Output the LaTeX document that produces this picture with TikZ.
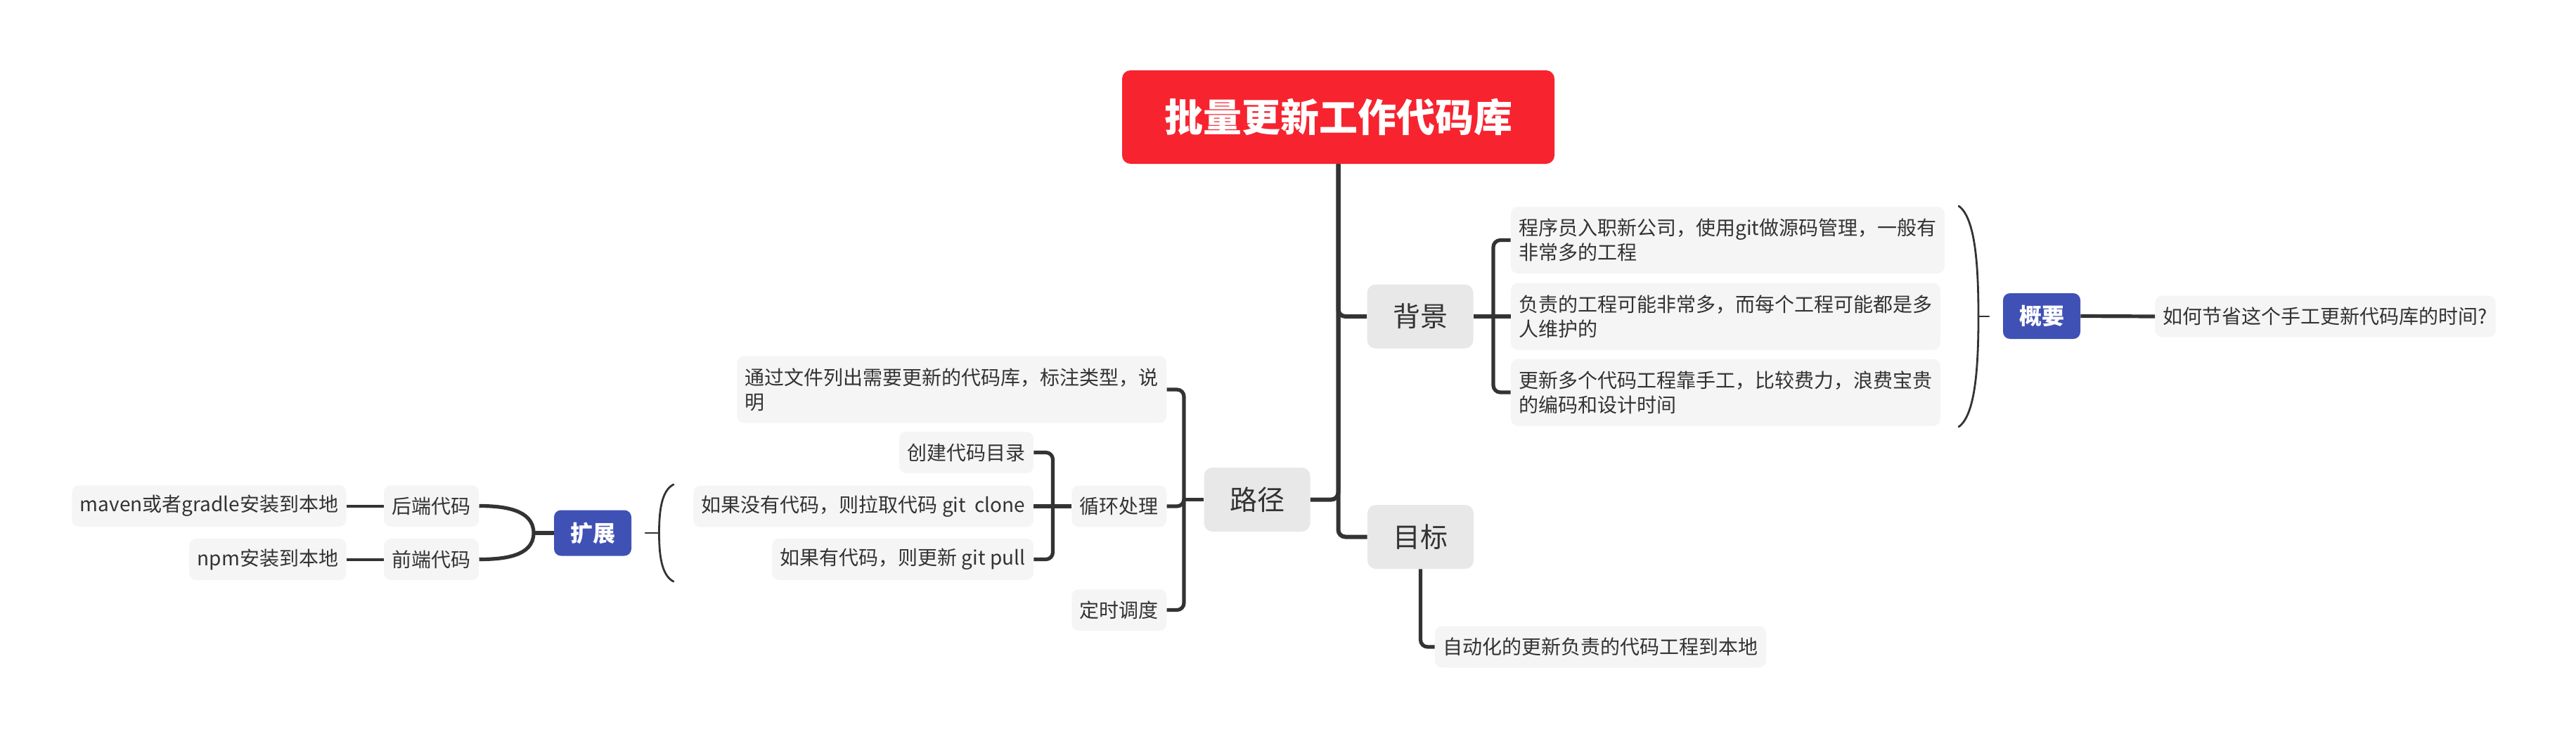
\documentclass[tikz,border=0pt]{standalone}
\usepackage{fontspec}
\setmainfont{Noto Sans CJK SC}
\usetikzlibrary{calc,positioning}
\definecolor{rootred}{HTML}{F7232F}
\definecolor{sumblue}{HTML}{4051B5}
\definecolor{topicgray}{HTML}{E8E8E8}
\definecolor{leafgray}{HTML}{F5F5F5}
\definecolor{ink}{HTML}{333333}

\begin{document}
\begin{tikzpicture}[x=50pt,y=-50pt,
	rootbox/.style={fill=rootred,text=white,rounded corners=6pt,minimum width=307.5pt,minimum height=66.5pt,font=\fontsize{27.5pt}{30pt}\selectfont\bfseries},
	topic/.style={fill=topicgray,text=ink,rounded corners=6pt,minimum width=75.5pt,minimum height=45.5pt,font=\fontsize{19.5pt}{22pt}\selectfont},
	leaf/.style={fill=leafgray,text=ink,rounded corners=5pt,inner xsep=5.75pt,minimum height=29.5pt,align=left,font=\fontsize{14pt}{17.5pt}\selectfont},
	twoline/.style={minimum height=47.5pt},
	summary/.style={fill=sumblue,text=white,rounded corners=5pt,minimum width=55pt,minimum height=32.5pt,font=\fontsize{16pt}{18pt}\selectfont\bfseries},
	trunk/.style={draw=ink,line width=3pt,rounded corners=5pt},
	twig/.style={draw=ink,line width=2.6pt,rounded corners=5pt},
	thin twig/.style={draw=ink,line width=2pt},
	brace line/.style={draw=ink,line width=1.4pt,line cap=round}]

	\useasboundingbox (0,0) rectangle (36.64,10.50);

	\node[rootbox] (root) at (19.035,1.665) {批量更新工作代码库};
	\node[topic] (bg) at (20.20,4.50) {背景};
	\node[topic] (route) at (17.88,7.105) {路径};
	\node[topic] (goal) at (20.205,7.635) {目标};

	\node[leaf,twoline,anchor=west] (bgA) at (21.485,3.415) {程序员入职新公司，使用git做源码管理，一般有\\非常多的工程};
	\node[leaf,twoline,anchor=west] (bgB) at (21.485,4.50) {负责的工程可能非常多，而每个工程可能都是多\\人维护的};
	\node[leaf,twoline,anchor=west] (bgC) at (21.485,5.58) {更新多个代码工程靠手工，比较费力，浪费宝贵\\的编码和设计时间};
	\node[summary] (summ) at (29.04,4.495) {概要};
	\node[leaf,anchor=west] (summtxt) at (30.65,4.50) {如何节省这个手工更新代码库的时间?};

	\node[leaf,anchor=west] (auto) at (20.406,9.20) {自动化的更新负责的代码工程到本地};

	\node[leaf,twoline,anchor=east] (list) at (16.597,5.54) {通过文件列出需要更新的代码库，标注类型，说\\明};
	\node[leaf,anchor=east] (loop) at (16.597,7.20) {循环处理};
	\node[leaf,anchor=east] (timer) at (16.597,8.675) {定时调度};
	\node[leaf,anchor=east] (mkdir) at (14.704,6.435) {创建代码目录};
	\node[leaf,anchor=east] (clone) at (14.704,7.20) {如果没有代码，则拉取代码 git~~clone};
	\node[leaf,anchor=east] (pull) at (14.704,7.955) {如果有代码，则更新 git pull};

	\node[summary] (ext) at (8.43,7.58) {扩展};
	\node[leaf,anchor=east] (backend) at (6.815,7.195) {后端代码};
	\node[leaf,anchor=east] (frontend) at (6.815,7.955) {前端代码};
	\node[leaf,anchor=east] (maven) at (4.93,7.195) {maven或者gradle安装到本地};
	\node[leaf,anchor=east] (npm) at (4.93,7.955) {npm安装到本地};

	\draw[trunk] (root.south) |- (bg.west);
	\draw[trunk] (root.south) |- (route.east);
	\draw[trunk] (root.south) |- (goal.west);

	\coordinate (bgj) at (21.24,4.50);
	\draw[twig] (bg.east) -- (bgj);
	\draw[twig] (bgj) |- (bgA.west);
	\draw[twig] (bgj) -- (bgB.west);
	\draw[twig] (bgj) |- (bgC.west);

	\draw[brace line] (27.86,2.93) .. controls (28.10,3.10) and (28.14,3.80) .. (28.14,4.50) .. controls (28.14,5.20) and (28.10,5.90) .. (27.86,6.07);
	\draw[brace line] (28.14,4.50) -- (28.29,4.50);
	\draw[twig] (summ.east) -- (summtxt.west);

	\draw[twig] (goal.south) |- (auto.west);

	\coordinate (rtj) at (16.84,7.105);
	\draw[twig] (route.west) -- (rtj);
	\draw[twig] (rtj) |- (list.east);
	\draw[twig] (rtj) |- (loop.east);
	\draw[twig] (rtj) |- (timer.east);

	\coordinate (lpj) at (14.975,7.20);
	\draw[twig] (loop.west) -- (lpj);
	\draw[twig] (lpj) |- (mkdir.east);
	\draw[twig] (lpj) -- (clone.east);
	\draw[twig] (lpj) |- (pull.east);

	\draw[brace line] (9.58,6.89) .. controls (9.40,6.98) and (9.375,7.30) .. (9.375,7.58) .. controls (9.375,7.86) and (9.40,8.18) .. (9.58,8.27);
	\draw[brace line] (9.375,7.58) -- (9.18,7.58);

	\coordinate (exj) at (7.59,7.58);
	\draw[twig] (ext.west) -- (exj);
	\draw[twig] (exj) to[out=90,in=0] (backend.east);
	\draw[twig] (exj) to[out=-90,in=0] (frontend.east);
	\draw[thin twig] (backend.west) -- (maven.east);
	\draw[thin twig] (frontend.west) -- (npm.east);
\end{tikzpicture}
\end{document}
